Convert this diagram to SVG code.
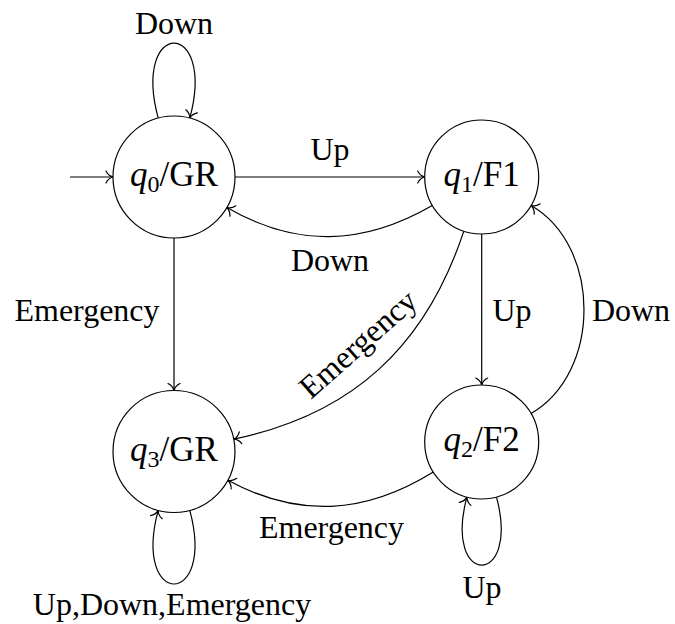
<svg xmlns="http://www.w3.org/2000/svg" width="675" height="624" viewBox="0 0 675 624">
  <style>
    .state { fill: #ffffff; stroke: #000000; stroke-width: 1.2; }
    .edge { fill: none; stroke: #000000; stroke-width: 1.2; marker-end: url(#tip); }
    .name { font-family: 'Liberation Serif', 'DejaVu Serif', serif; font-size: 35px; fill: #000000; text-anchor: middle; }
    .name .v { font-style: italic; }
    .name .sub { font-size: 24px; }
    .lbl { font-family: 'Liberation Serif', 'DejaVu Serif', serif; font-size: 32px; fill: #000000; text-anchor: middle; }
  </style>
  <defs>
    <!-- curved open arrow tip -->
    <marker id="tip" markerUnits="userSpaceOnUse" orient="auto" refX="0" refY="0" markerWidth="20" markerHeight="20" overflow="visible">
      <path d="M -7 -6 C -5.5 -2.8, -2.2 -0.6, 0 0 C -2.2 0.6, -5.5 2.8, -7 6" fill="none" stroke="#000000" stroke-width="1.2" stroke-linecap="round"/>
    </marker>
  </defs>
  <rect x="0" y="0" width="675" height="624" fill="#ffffff"/>

  <!-- transitions -->
  <g id="edges">
    <!-- start arrow -->
    <path class="edge" d="M 70 177 L 113 177"/>
    <!-- q0 loop: Down -->
    <path class="edge" d="M 158.2 118.1 C 131.4 18.1, 216.6 18.1, 189.8 118.1"/>
    <text class="lbl" x="174" y="34">Down</text>
    <!-- q0 -> q1: Up -->
    <path class="edge" d="M 235 177 L 424.7 177"/>
    <text class="lbl" x="330" y="160">Up</text>
    <!-- q1 -> q0: Down -->
    <path class="edge" d="M 432.3 205.5 C 362.6 245.7, 296.5 247.7, 226.8 207.5"/>
    <text class="lbl" x="330" y="271">Down</text>
    <!-- q0 -> q3: Emergency -->
    <path class="edge" d="M 174 238 L 174 390.5"/>
    <text class="lbl" x="87" y="321">Emergency</text>
    <!-- q1 -> q2: Up -->
    <path class="edge" d="M 481.7 234 L 481.7 385"/>
    <text class="lbl" x="512" y="321">Up</text>
    <!-- q2 -> q1: Down -->
    <path class="edge" d="M 531.1 413.5 C 601.6 372.8, 601.6 246.2, 531.1 205.5"/>
    <text class="lbl" x="631" y="321">Down</text>
    <!-- q1 -> q3: Emergency -->
    <path class="edge" d="M 463.8 231.1 C 425.7 346.4, 352.6 414.5, 233.7 439.1"/>
    <text class="lbl" transform="translate(365 352) rotate(-41.5)">Emergency</text>
    <!-- q2 -> q3: Emergency -->
    <path class="edge" d="M 433.3 472 C 364.9 514.4, 298.7 518.3, 227.8 480.3"/>
    <text class="lbl" x="331.5" y="538">Emergency</text>
    <!-- q2 loop: Up -->
    <path class="edge" d="M 496.5 497.1 C 520.8 587.8, 442.6 587.8, 466.9 497.1"/>
    <text class="lbl" x="482" y="598">Up</text>
    <!-- q3 loop: Up,Down,Emergency -->
    <path class="edge" d="M 189.8 510.4 C 216.1 608.5, 131.9 608.5, 158.2 510.4"/>
    <text class="lbl" x="172" y="615">Up,Down,Emergency</text>
  </g>

  <!-- states -->
  <g id="q0">
    <circle class="state" cx="174" cy="177" r="61"/>
    <text class="name" x="174" y="186"><tspan class="v">q</tspan><tspan class="sub" dy="6">0</tspan><tspan dy="-6">/GR</tspan></text>
  </g>
  <g id="q1">
    <circle class="state" cx="481.7" cy="177" r="57"/>
    <text class="name" x="481.7" y="186"><tspan class="v">q</tspan><tspan class="sub" dy="6">1</tspan><tspan dy="-6">/F1</tspan></text>
  </g>
  <g id="q2">
    <circle class="state" cx="481.7" cy="442" r="57"/>
    <text class="name" x="481.7" y="451"><tspan class="v">q</tspan><tspan class="sub" dy="6">2</tspan><tspan dy="-6">/F2</tspan></text>
  </g>
  <g id="q3">
    <circle class="state" cx="174" cy="451.5" r="61"/>
    <text class="name" x="174" y="460.5"><tspan class="v">q</tspan><tspan class="sub" dy="6">3</tspan><tspan dy="-6">/GR</tspan></text>
  </g>
</svg>
